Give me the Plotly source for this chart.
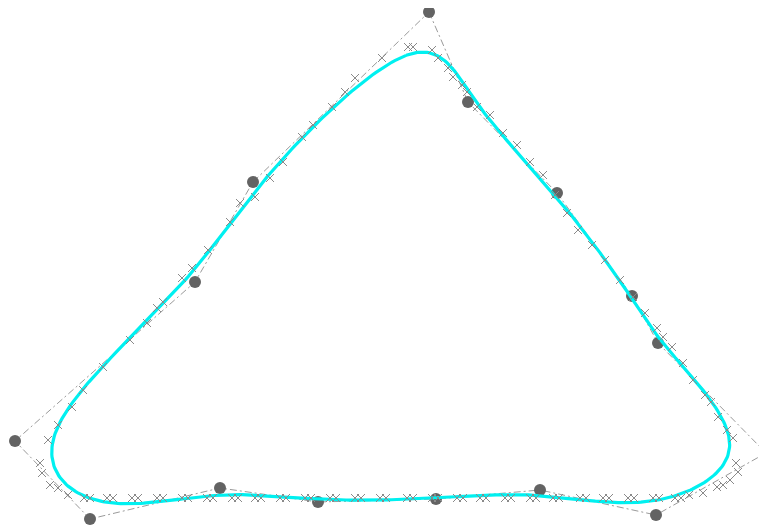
import numpy as np
import plotly.graph_objects as go

# Control points (closed polygon, in order)
ctrl_x = [429, 468, 557, 632, 658, 766, 656, 540, 436, 318, 220, 90, 15, 195, 253]
ctrl_y = [12, 102, 193, 296, 343, 453, 515, 490, 499, 502, 488, 519, 441, 282, 182]

# Sampled data points (x markers)
data_x = [408, 413, 432, 438, 448, 453, 462, 467, 477, 490, 503, 517, 530, 543, 555,
          567, 578, 592, 605, 620, 633, 645, 657, 663, 672, 683, 693, 705, 711, 718,
          727, 733, 736, 738, 730, 723, 717, 703, 689,
          675, 681, 653, 659, 628, 634, 603, 609, 580, 586, 553, 559, 530, 536,
          505, 511, 480, 486, 457, 463, 432, 438, 407, 413, 380, 386, 355, 361,
          330, 336, 305, 311, 280, 286, 255, 261, 232, 238, 207, 213, 182, 188,
          157, 163, 132, 138, 107, 113, 84, 90,
          68, 58, 50, 42, 40, 48, 58, 72, 83, 103, 130, 147, 157, 163, 182,
          192, 208, 230, 240, 255, 270, 283, 302, 313, 332, 345, 355, 382]
data_y = [47, 47, 50, 58, 68, 77, 85, 92, 107, 115, 133, 145, 162, 175, 195,
          213, 230, 245, 260, 280, 297, 313, 328, 337, 347, 363, 380, 395, 402, 417,
          430, 438, 463, 472, 480, 485, 487, 493, 495,
          498, 498, 498, 498, 498, 498, 498, 498, 498, 498, 498, 498, 498, 498,
          498, 498, 498, 498, 498, 498, 498, 498, 498, 498, 498, 498, 498, 498,
          498, 498, 498, 498, 498, 498, 498, 498, 498, 498, 498, 498, 498, 498,
          498, 498, 498, 498, 498, 498, 498, 498,
          495, 488, 485, 473, 463, 440, 425, 407, 390, 367, 340, 323, 308, 302, 278,
          268, 250, 222, 203, 197, 178, 162, 137, 125, 107, 92, 78, 58]


def closed_bspline(px, py, per_seg=40):
    """Evaluate a uniform closed cubic B-spline defined by the control points."""
    P = np.column_stack([px, py]).astype(float)
    n = len(P)
    out = []
    for i in range(n):
        p0, p1, p2, p3 = P[(i - 1) % n], P[i], P[(i + 1) % n], P[(i + 2) % n]
        for t in np.linspace(0, 1, per_seg, endpoint=False):
            b0 = (1 - t) ** 3 / 6
            b1 = (3 * t ** 3 - 6 * t ** 2 + 4) / 6
            b2 = (-3 * t ** 3 + 3 * t ** 2 + 3 * t + 1) / 6
            b3 = t ** 3 / 6
            out.append(b0 * p0 + b1 * p1 + b2 * p2 + b3 * p3)
    out.append(out[0])
    out = np.array(out)
    return out[:, 0], out[:, 1]


cx, cy = closed_bspline(ctrl_x, ctrl_y)

fig = go.Figure()
# control polygon
fig.add_trace(go.Scatter(
    x=ctrl_x + [ctrl_x[0]], y=ctrl_y + [ctrl_y[0]], mode="lines",
    line=dict(color="#9a9a9a", width=1, dash="7px,3px,2px,3px"), hoverinfo="skip"))
# control points
fig.add_trace(go.Scatter(
    x=ctrl_x, y=ctrl_y, mode="markers",
    marker=dict(color="#636363", size=12, line=dict(width=0))))
# fitted curve
fig.add_trace(go.Scatter(
    x=cx, y=cy, mode="lines", line=dict(color="#00F0F0", width=3.2)))
# data points
fig.add_trace(go.Scatter(
    x=data_x, y=data_y, mode="markers",
    marker=dict(symbol="x-thin", size=8, color="#8a8a8a",
                line=dict(color="#8a8a8a", width=1))))

fig.update_layout(
    width=767, height=526, showlegend=False,
    margin=dict(l=0, r=0, t=0, b=0),
    paper_bgcolor="white", plot_bgcolor="white",
    xaxis=dict(range=[8, 775], visible=False),
    yaxis=dict(range=[534, 8], visible=False),
)
fig.write_html("out.html")
